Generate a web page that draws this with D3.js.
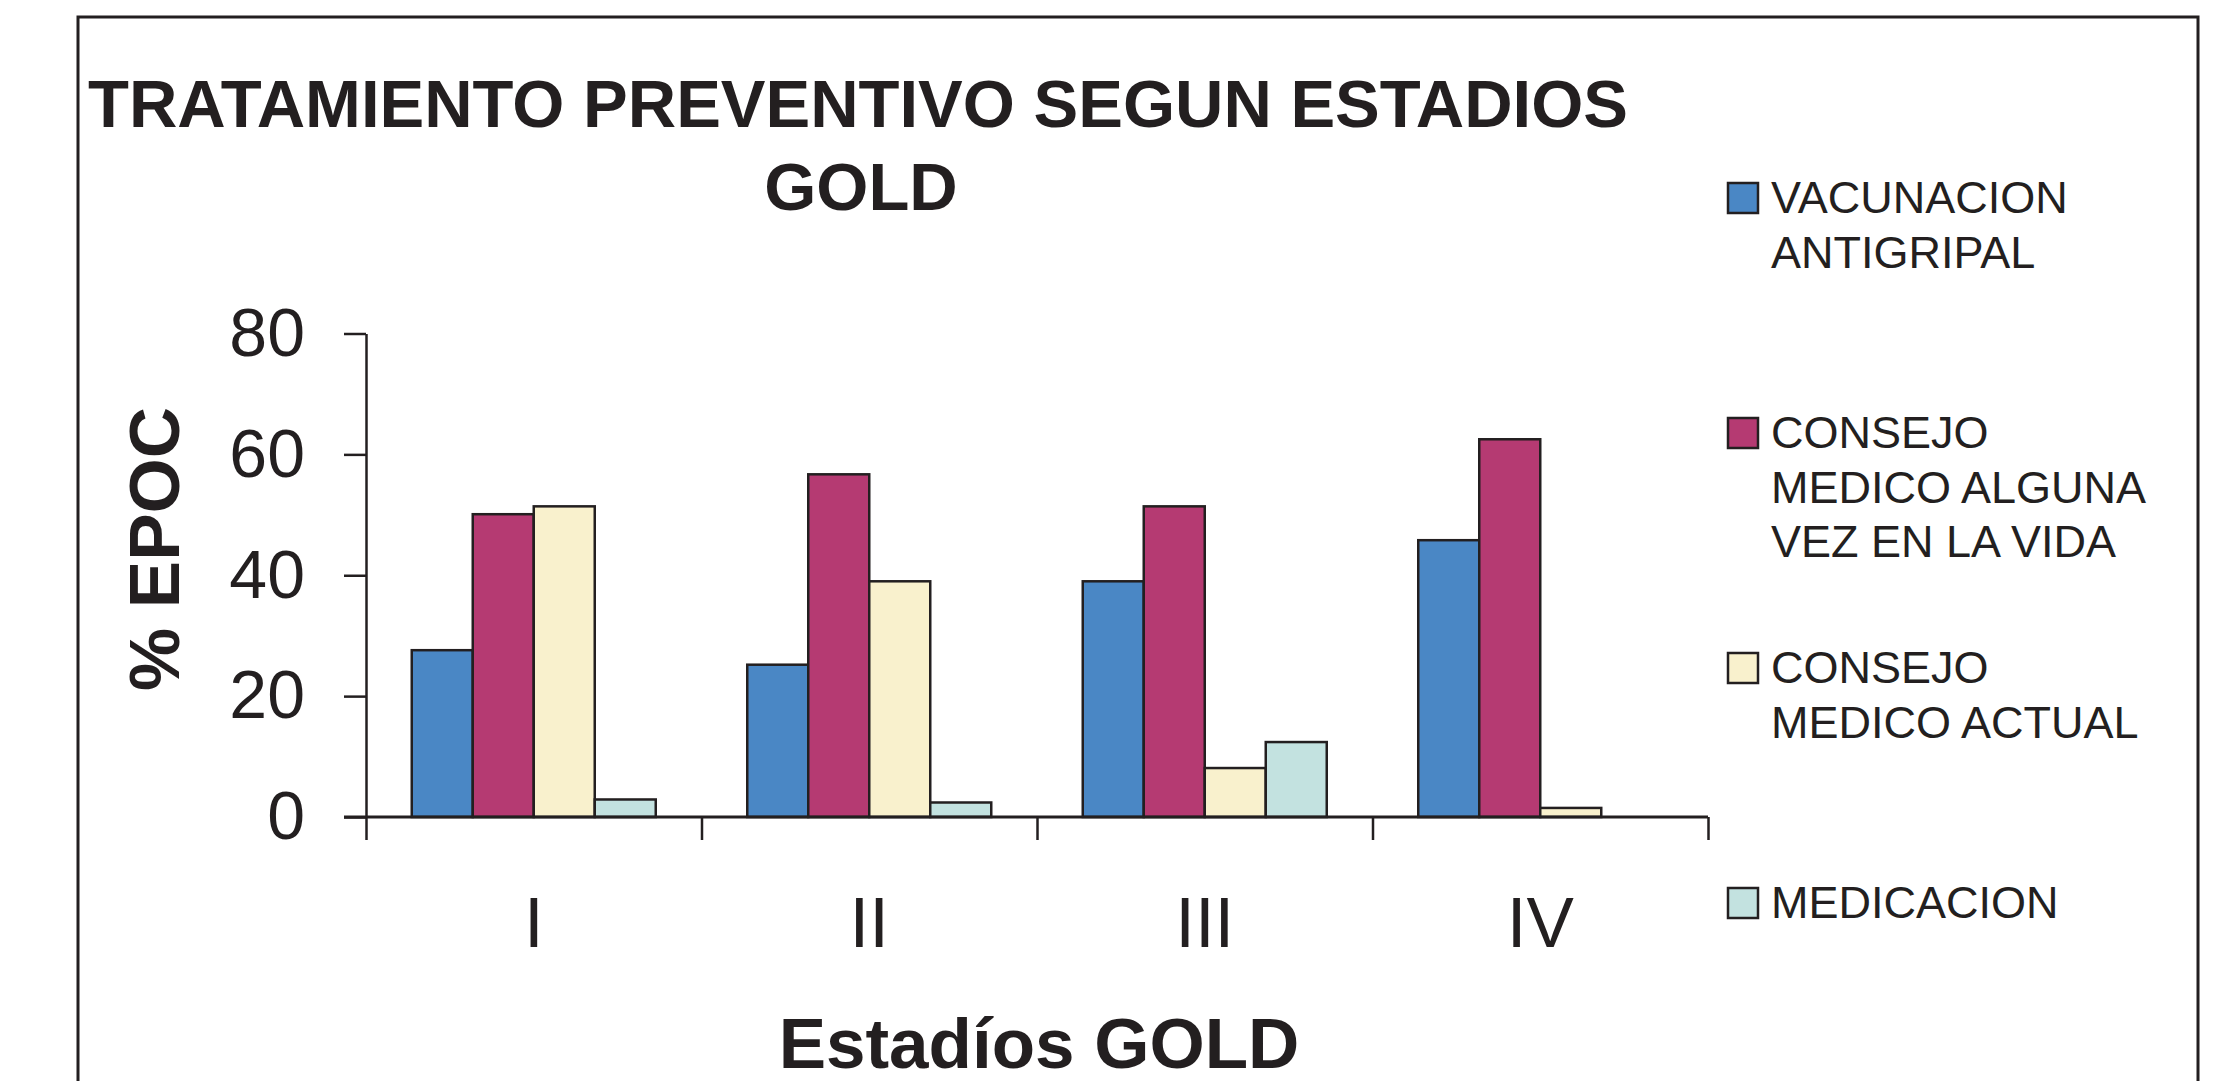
<!DOCTYPE html>
<html>
<head>
<meta charset="utf-8">
<script src="https://cdn.jsdelivr.net/npm/d3@7"></script>
<style>
  body { margin: 0; background: #fff; }
  svg text { font-family: "Liberation Sans", Arial, sans-serif; fill: #231f20; }
</style>
</head>
<body>
<script>
// datos
const estadios = ['I', 'II', 'III', 'IV'];
const series = ['VACUNACION ANTIGRIPAL', 'CONSEJO MEDICO ALGUNA VEZ EN LA VIDA', 'CONSEJO MEDICO ACTUAL', 'MEDICACION'];
const vacunacion = [27.6, 25.2, 39.0, 45.8];
const consejoAlguna = [50.1, 56.7, 51.4, 62.5];
const consejoActual = [51.4, 39.0, 8.1, 1.5];
const medicacion = [2.9, 2.4, 12.4, 0];
const yTicks = [0, 20, 40, 60, 80];
const legendLines = [
  ['VACUNACION', 'ANTIGRIPAL'],
  ['CONSEJO', 'MEDICO ALGUNA', 'VEZ EN LA VIDA'],
  ['CONSEJO', 'MEDICO ACTUAL'],
  ['MEDICACION']
];
const colores = ['#4a87c5', '#b53a72', '#f9f1cd', '#c3e2e0'];
const valores = [vacunacion, consejoAlguna, consejoActual, medicacion];

const W = 2225, H = 1081;
const ink = '#231f20';

const svg = d3.select('body').append('svg')
  .attr('width', W).attr('height', H);

// marco
svg.append('rect')
  .attr('x', 78).attr('y', 17)
  .attr('width', 2120).attr('height', 1100)
  .attr('fill', 'none').attr('stroke', ink).attr('stroke-width', 3);

// titulo
svg.append('text')
  .attr('x', 858).attr('y', 127)
  .attr('text-anchor', 'middle')
  .attr('font-size', 67).attr('font-weight', 'bold')
  .text('TRATAMIENTO PREVENTIVO SEGUN ESTADIOS');
svg.append('text')
  .attr('x', 861).attr('y', 210)
  .attr('text-anchor', 'middle')
  .attr('font-size', 67).attr('font-weight', 'bold')
  .text('GOLD');

const plot = { left: 366, right: 1708, top: 333.5, bottom: 817 };

const x0 = d3.scaleBand().domain(estadios).range([plot.left, plot.right]).padding(0);
const x1 = d3.scaleBand().domain(series).range([0, x0.bandwidth()]).paddingInner(0).paddingOuter(0.75);
const y = d3.scaleLinear().domain([0, 80]).range([plot.bottom, plot.top]);

// barras
const grupos = svg.append('g').selectAll('g')
  .data(estadios)
  .join('g')
  .attr('transform', d => `translate(${x0(d)},0)`);

grupos.selectAll('rect')
  .data((d, i) => series.map((s, j) => ({ s, j, v: valores[j][i] })).filter(e => e.v > 0))
  .join('rect')
  .attr('x', e => x1(e.s))
  .attr('y', e => y(e.v))
  .attr('width', x1.bandwidth())
  .attr('height', e => y(0) - y(e.v))
  .attr('fill', e => colores[e.j])
  .attr('stroke', ink).attr('stroke-width', 2.5);

// eje y
const yAxis = svg.append('g')
  .attr('transform', `translate(${plot.left},0)`)
  .call(d3.axisLeft(y).tickValues(yTicks).tickSize(22).tickPadding(39).tickSizeOuter(0));
yAxis.select('.domain').attr('stroke', ink).attr('stroke-width', 2.5);
yAxis.selectAll('.tick line').attr('stroke', ink).attr('stroke-width', 2.5);
yAxis.selectAll('.tick text')
  .attr('font-size', 68).attr('fill', ink)
  .style('font-family', '"Liberation Sans", Arial, sans-serif');

// eje x: linea y marcas en los limites de categoria
const xLin = d3.scaleLinear().domain([0, estadios.length]).range([plot.left, plot.right]);
const xAxis = svg.append('g')
  .attr('transform', `translate(0,${plot.bottom})`)
  .call(d3.axisBottom(xLin).ticks(estadios.length).tickSize(23).tickFormat('').tickSizeOuter(0));
xAxis.select('.domain').remove();
xAxis.selectAll('.tick line').attr('stroke', ink).attr('stroke-width', 2.5);
svg.append('line')
  .attr('x1', plot.left - 22).attr('x2', plot.right)
  .attr('y1', plot.bottom).attr('y2', plot.bottom)
  .attr('stroke', ink).attr('stroke-width', 3);

// etiquetas de categoria
const xLab = svg.append('g')
  .attr('transform', `translate(0,${plot.bottom})`)
  .call(d3.axisBottom(x0).tickSize(0).tickPadding(80));
xLab.select('.domain').remove();
xLab.selectAll('.tick text')
  .attr('font-size', 71).attr('fill', ink)
  .style('font-family', '"Liberation Sans", Arial, sans-serif');

// titulos de ejes
svg.append('text')
  .attr('x', 1039).attr('y', 1068)
  .attr('text-anchor', 'middle')
  .attr('font-size', 71).attr('font-weight', 'bold')
  .text('Estadíos GOLD');

svg.append('text')
  .attr('transform', 'translate(179,549) rotate(-90)')
  .attr('text-anchor', 'middle')
  .attr('font-size', 71).attr('font-weight', 'bold')
  .text('% EPOC');

// leyenda
const leg = svg.append('g').attr('transform', 'translate(1728,213)');
const items = leg.selectAll('g')
  .data(series)
  .join('g')
  .attr('transform', (d, i) => `translate(0,${i * 235})`);
items.append('rect')
  .attr('x', 0).attr('y', -30)
  .attr('width', 30).attr('height', 30)
  .attr('fill', (d, i) => colores[i])
  .attr('stroke', ink).attr('stroke-width', 2.5);
items.append('text')
  .attr('font-size', 45)
  .selectAll('tspan')
  .data((d, i) => legendLines[i])
  .join('tspan')
  .attr('x', 43)
  .attr('y', (d, k) => k * 54.5)
  .text(d => d);
</script>
</body>
</html>
